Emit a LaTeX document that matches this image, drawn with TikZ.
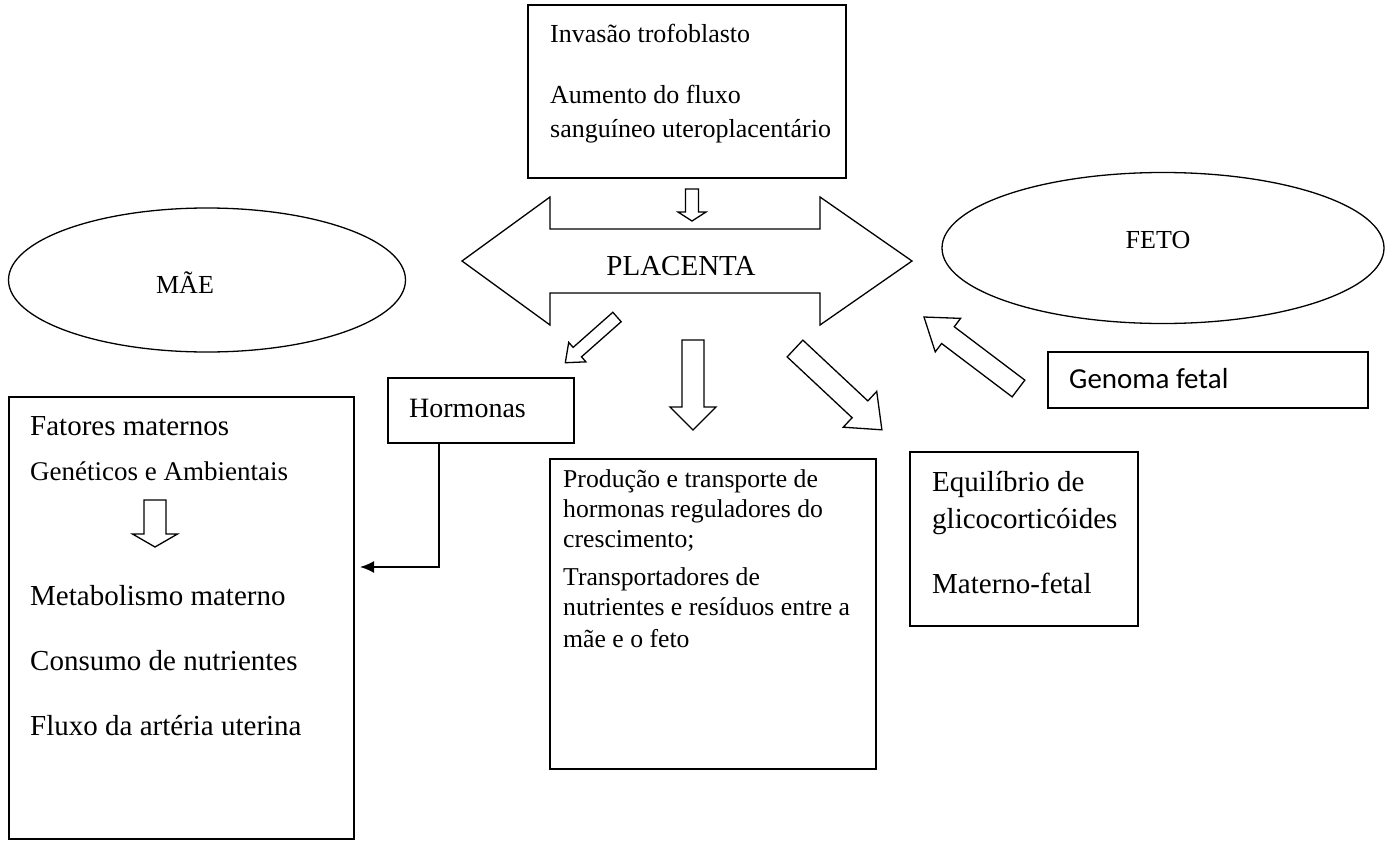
\documentclass[tikz,border=0pt]{standalone}
\usepackage{fontspec}
\setmainfont{Liberation Serif}
\newfontfamily\calibrifont{Carlito}
\usetikzlibrary{shapes.geometric,arrows.meta}

\tikzset{
  box/.style={draw, line width=1.3pt, inner sep=0pt, outer sep=0pt, anchor=north west},
  oval/.style={draw, ellipse, line width=1.3pt, inner sep=0pt},
  hollow/.style={draw, line width=1.3pt, fill=white, line join=miter},
  txt/.style={anchor=base west, inner sep=0pt, font=\fontsize{26pt}{30pt}\selectfont},
  bigtxt/.style={txt, font=\fontsize{29pt}{34pt}\selectfont},
  conn/.style={line width=1.8pt, -{Latex[length=14pt,width=12pt]}},
}

% hollow block arrow: tail, angle, length, half shaft, half head, head length
\newcommand{\hollowarrow}[6]{%
  \draw[hollow, shift={(#1)}, rotate=#2]
    (0,#4) -- ({#3-#6},#4) -- ({#3-#6},#5) -- (#3,0)
    -- ({#3-#6},-#5) -- ({#3-#6},-#4) -- (0,-#4) -- cycle;}

\begin{document}
\begin{tikzpicture}[x=1pt,y=-1pt]
    \useasboundingbox (0,0) rectangle (1392,843);

    % Trophoblast box on top
    \node[box, minimum width=318pt, minimum height=173pt] (trofo) at (528,5) {};
    \foreach \y/\txt [count=\i] in {43/Invasão trofoblasto, 103/Aumento do fluxo,
        137/sanguíneo uteroplacentário}
        \node[txt] (trofo\i) at (550,\y) {\txt};
    \hollowarrow{692,189}{-90}{32}{6.5}{14}{9}

    % Placenta double arrow
    \draw[hollow] (462,261) -- (550,197) -- (550,229) -- (820,229) -- (820,197)
        -- (912,261) -- (820,325) -- (820,293) -- (550,293) -- (550,325) -- cycle;
    \node[bigtxt, anchor=base] (placenta) at (681,275) {PLACENTA};

    % Mother and foetus
    \node[oval, minimum width=397pt, minimum height=144pt] (mae) at (207,280) {};
    \node[txt, anchor=center] (maelabel) at (185,283) {MÃE};
    \node[oval, minimum width=442pt, minimum height=151pt] (feto) at (1163,248) {};
    \node[txt, anchor=center] (fetolabel) at (1158,240) {FETO};

    % Hormones
    \node[box, minimum width=186pt, minimum height=65pt] (hormonas) at (388,378) {};
    \node[bigtxt, font=\fontsize{28pt}{32pt}\selectfont] (hormlabel) at (409,417) {Hormonas};
    \hollowarrow{617,317}{221.5}{69}{6.3}{13}{16}

    % Maternal factors
    \node[box, minimum width=345pt, minimum height=442pt] (materno) at (9,397) {};
    \node[bigtxt] (materno1) at (30,435) {Fatores maternos};
    \node[txt, font=\fontsize{27pt}{32pt}\selectfont] (materno2) at (30,480) {Genéticos e Ambientais};
    \hollowarrow{155,500}{-90}{47}{11}{22.5}{13}
    \foreach \y/\txt [count=\i from 3] in {605/Metabolismo materno,
        670/Consumo de nutrientes, 735/Fluxo da artéria uterina}
        \node[bigtxt] (materno\i) at (30,\y) {\txt};
    \coordinate (hormtip) at (360,567);
    \draw[conn] ([xshift=51pt]hormonas.south west) |- (hormtip);

    % Transport box
    \hollowarrow{693,340}{-90}{90}{11}{23}{23}
    \node[box, minimum width=326pt, minimum height=310pt] (transp) at (550,459) {};
    \foreach \y/\txt [count=\i] in {487/Produção e transporte de,
        517/hormonas reguladores do, 547/crescimento;, 585/Transportadores de,
        615/nutrientes e resíduos entre a, 647/mãe e o feto}
        \node[txt, font=\fontsize{25.7pt}{30pt}\selectfont] (transp\i) at (563,\y) {\txt};

    % Glucocorticoid balance
    \hollowarrow{795,348.5}{-43.1}{119}{11.5}{24.5}{30}
    \node[box, minimum width=228pt, minimum height=174pt] (gluco) at (910,452) {};
    \foreach \y/\txt [count=\i] in {491/Equilíbrio de, 528/glicocorticóides,
        593/Materno-fetal}
        \node[bigtxt] (gluco\i) at (932,\y) {\txt};

    % Foetal genome
    \node[box, minimum width=320pt, minimum height=56pt] (genoma) at (1048,352) {};
    \node[txt, font=\calibrifont\fontsize{29pt}{34pt}\selectfont] (genlabel) at (1069,388) {Genoma fetal};
    \hollowarrow{1018.5,388.5}{142.9}{118.5}{10.5}{21}{30}
\end{tikzpicture}
\end{document}
